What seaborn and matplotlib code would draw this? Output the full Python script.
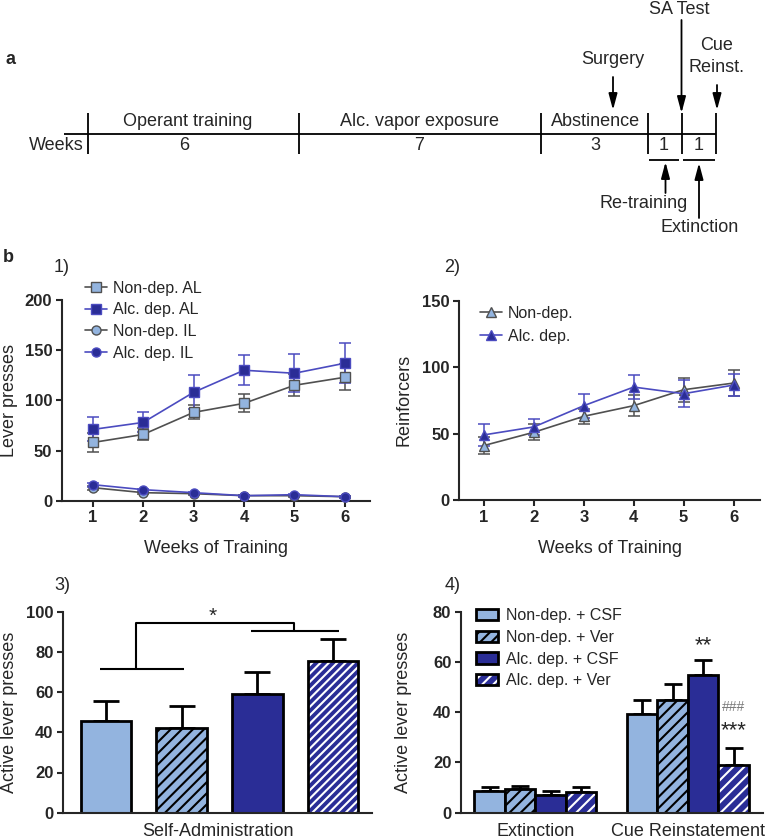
import numpy as np
import pandas as pd
import matplotlib
matplotlib.use("Agg")
import matplotlib.pyplot as plt
import seaborn as sns

sns.set_style("ticks")
plt.rcParams["font.family"] = ["Liberation Sans", "DejaVu Sans"]
plt.rcParams["hatch.linewidth"] = 1.5

# ---------------- data ----------------
weeks = [1, 2, 3, 4, 5, 6]
nondep_al = [58, 66, 88, 97, 115, 123]
nondep_al_err = [9, 6, 7, 9, 11, 13]
alcdep_al = [71, 78, 108, 130, 127, 137]
alcdep_al_err = [12, 10, 17, 15, 19, 20]
nondep_il = [13, 8, 7, 5, 5, 4]
nondep_il_err = [2, 1, 1, 1, 1, 1]
alcdep_il = [16, 11, 8, 5, 6, 4]
alcdep_il_err = [2, 1, 1, 1, 1, 1]

nondep_rf = [41, 51, 63, 71, 83, 88]
nondep_rf_err = [6.5, 6, 5.5, 8, 9, 10]
alcdep_rf = [49, 55, 71, 85, 80, 86.5]
alcdep_rf_err = [8, 6, 9, 9, 10, 8.5]

groups = ["Non-dep. + CSF", "Non-dep. + Ver", "Alc. dep. + CSF", "Alc. dep. + Ver"]
sa_values = [45.5, 42, 59, 75.5]
sa_err = [10, 11, 11, 11]

phases = ["Extinction", "Cue Reinstatement"]
ext_values = [8.8, 9.3, 7.0, 8.4]
ext_err = [1.3, 1.5, 1.5, 1.7]
cue_values = [39.3, 44.9, 55.0, 19.0]
cue_err = [5.6, 6.3, 5.8, 6.9]

# ---------------- style ----------------
LIGHT = "#93B4DF"
DARK = "#2A2D96"
GRAYLINE = "#505050"
BLUELINE = "#4B4BC0"
palette = [LIGHT, LIGHT, DARK, DARK]
hatches3 = ["", "///", "", "////"]
hatches4 = ["", "///", "", "///"]
hatch_white = [False, False, False, True]

W, H = 774, 839
fig = plt.figure(figsize=(W / 100, H / 100), dpi=100)

# overlay axes for timeline / panel letters (pixel coordinates)
ov = fig.add_axes([0, 0, 1, 1], zorder=-1)
ov.set_xlim(0, W)
ov.set_ylim(H, 0)
ov.axis("off")


def px_axes(l, t, r, b):
    return fig.add_axes([l / W, 1 - b / H, (r - l) / W, (b - t) / H])


def style_axes(ax):
    sns.despine(ax=ax)
    for s in ("left", "bottom"):
        ax.spines[s].set_linewidth(1.5)
    ax.tick_params(direction="out", length=4, width=1.5, labelsize=12, pad=3)
    for t in ax.get_yticklabels() + ax.get_xticklabels():
        t.set_fontweight("bold")


def white_hatch(p):
    if hasattr(p, "set_hatchcolor"):
        p.set_hatchcolor("white")
    else:
        p._hatch_color = (1, 1, 1, 1)


# ---------------- timeline (a) ----------------
tl = dict(color="k", lw=1.3, solid_capstyle="butt")
ov.plot([64, 716], [133.5, 133.5], **tl)
for xt in [88, 299, 540.5, 648, 681.5, 716]:
    ov.plot([xt, xt], [113, 154], **tl)
ov.plot([649, 679], [159.5, 159.5], **tl)
ov.plot([683, 715], [159.5, 159.5], **tl)
tfs = 13
ov.text(84, 145, "Weeks", ha="right", va="center", fontsize=tfs)
for x, s in [(184, "6"), (419, "7"), (595, "3"), (664, "1"), (698.5, "1")]:
    ov.text(x, 145, s, ha="center", va="center", fontsize=tfs)
for x, s in [(188, "Operant training"), (420, "Alc. vapor exposure"), (596, "Abstinence")]:
    ov.text(x, 121.5, s, ha="center", va="center", fontsize=tfs)
ap = dict(arrowstyle="-|>,head_length=0.75,head_width=0.2", lw=1.3, color="k",
          mutation_scale=13, shrinkA=0, shrinkB=0)
ov.annotate("", xy=(613, 110), xytext=(613, 77), arrowprops=ap)
ov.text(613, 60, "Surgery", ha="center", va="center", fontsize=tfs)
ov.annotate("", xy=(681.5, 113), xytext=(681.5, 20), arrowprops=ap)
ov.text(679, 10, "SA Test", ha="center", va="center", fontsize=tfs)
ov.annotate("", xy=(717, 110), xytext=(717, 85), arrowprops=ap)
ov.text(717, 45, "Cue", ha="center", va="center", fontsize=tfs)
ov.text(717, 67, "Reinst.", ha="center", va="center", fontsize=tfs)
ov.annotate("", xy=(665.5, 162), xytext=(665.5, 193), arrowprops=ap)
ov.text(644, 203, "Re-training", ha="center", va="center", fontsize=tfs)
ov.annotate("", xy=(699, 163), xytext=(699, 218), arrowprops=ap)
ov.text(700, 227, "Extinction", ha="center", va="center", fontsize=tfs)

ov.text(10, 60, "a", ha="center", va="center", fontsize=13, fontweight="bold")
ov.text(8, 258, "b", ha="center", va="center", fontsize=13, fontweight="bold")
for x, y, s in [(62, 268, "1)"), (452.5, 268, "2)"), (62.5, 585, "3)"), (452.5, 585, "4)")]:
    ov.text(x, y, s, ha="center", va="center", fontsize=13)

LEGFS = 11.5

# ---------------- panel 1 ----------------
ax1 = px_axes(62, 300, 370, 500.7)
series1 = [
    ("Non-dep. AL", nondep_al, nondep_al_err, "s", LIGHT, GRAYLINE),
    ("Alc. dep. AL", alcdep_al, alcdep_al_err, "s", DARK, BLUELINE),
    ("Non-dep. IL", nondep_il, nondep_il_err, "o", LIGHT, GRAYLINE),
    ("Alc. dep. IL", alcdep_il, alcdep_il_err, "o", DARK, BLUELINE),
]
for label, vals, errs, mk, fc, lc in series1:
    ax1.errorbar(weeks, vals, yerr=errs, fmt="none", ecolor=lc, elinewidth=1.1,
                 capsize=4, capthick=1.1, zorder=2)
    sns.lineplot(x=weeks, y=vals, ax=ax1, color=lc, lw=1.2, marker=mk, markersize=6.5,
                 markerfacecolor=fc, markeredgecolor=lc, markeredgewidth=1, label=label,
                 errorbar=None, zorder=3, clip_on=False)
ax1.set_xlim(0.39, 6.5)
ax1.set_ylim(0, 200)
ax1.set_xticks(weeks)
ax1.set_yticks([0, 50, 100, 150, 200])
style_axes(ax1)
ax1.set_xlabel("Weeks of Training", fontsize=13, va="center")
ax1.xaxis.set_label_coords(0.5, -0.236)
ax1.set_ylabel("Lever presses", fontsize=13, va="center")
ax1.yaxis.set_label_coords(-0.172, 0.5)
h, l = ax1.get_legend_handles_labels()
ax1.legend(h, l, loc="upper left", bbox_to_anchor=(0.075, 1.097), frameon=False,
           fontsize=LEGFS, borderpad=0, borderaxespad=0, handlelength=1.4,
           handletextpad=0.33, labelspacing=0.42)

# ---------------- panel 2 ----------------
ax2 = px_axes(459.3, 300.7, 760, 500)
series2 = [
    ("Non-dep.", nondep_rf, nondep_rf_err, "^", LIGHT, GRAYLINE),
    ("Alc. dep.", alcdep_rf, alcdep_rf_err, "^", DARK, BLUELINE),
]
for label, vals, errs, mk, fc, lc in series2:
    ax2.errorbar(weeks, vals, yerr=errs, fmt="none", ecolor=lc, elinewidth=1.1,
                 capsize=4, capthick=1.1, zorder=2)
    sns.lineplot(x=weeks, y=vals, ax=ax2, color=lc, lw=1.2, marker=mk, markersize=6.5,
                 markerfacecolor=fc, markeredgecolor=lc, markeredgewidth=1, label=label,
                 errorbar=None, zorder=3, clip_on=False)
ax2.set_xlim(0.505, 6.53)
ax2.set_ylim(0, 150)
ax2.set_xticks(weeks)
ax2.set_yticks([0, 50, 100, 150])
style_axes(ax2)
ax2.set_xlabel("Weeks of Training", fontsize=13, va="center")
ax2.xaxis.set_label_coords(0.5, -0.241)
ax2.set_ylabel("Reinforcers", fontsize=13, va="center")
ax2.yaxis.set_label_coords(-0.184, 0.5)
h, l = ax2.get_legend_handles_labels()
ax2.legend(h, l, loc="upper left", bbox_to_anchor=(0.069, 0.974), frameon=False,
           fontsize=LEGFS, borderpad=0, borderaxespad=0, handlelength=1.4,
           handletextpad=0.33, labelspacing=0.48)


def decorate_bars(containers, hatches):
    for i, cont in enumerate(containers):
        for bar in cont:
            bar.set_edgecolor("k")
            bar.set_linewidth(2)
            bar.set_hatch(hatches[i])
            if hatch_white[i]:
                white_hatch(bar)


# ---------------- panel 3 ----------------
ax3 = px_axes(63.3, 611.7, 371.7, 812.7)
df3 = pd.DataFrame({"group": groups, "value": sa_values})
sns.barplot(data=df3, x="group", y="value", hue="group", palette=palette,
            saturation=1, width=0.67, errorbar=None, legend=False, ax=ax3, zorder=2)
bars3 = list(ax3.containers)
decorate_bars(bars3, hatches3)
for i, cont in enumerate(bars3):
    for bar in cont:
        if bar is None or np.isnan(bar.get_height()):
            continue
        xc = bar.get_x() + bar.get_width() / 2
        ax3.errorbar([xc], [bar.get_height()], yerr=[[0], [sa_err[i]]], fmt="none",
                     ecolor="k", elinewidth=2, capsize=9.5, capthick=2, zorder=1)
ax3.set_xlim(-0.563, 3.51)
ax3.set_ylim(0, 100)
ax3.set_yticks([0, 20, 40, 60, 80, 100])
ax3.set_xticks([])
style_axes(ax3)
ax3.set_xlabel("Self-Administration", fontsize=13, va="center")
ax3.xaxis.set_label_coords(0.5, -0.0945)
ax3.set_ylabel("Active lever presses", fontsize=13, va="center")
ax3.yaxis.set_label_coords(-0.176, 0.5)
bk = dict(color="k", lw=1.5, solid_capstyle="butt", clip_on=False)
ax3.plot([-0.08, 1.03], [71.5, 71.5], **bk)
ax3.plot([1.91, 3.08], [90.2, 90.2], **bk)
ax3.plot([0.40, 0.40, 2.48, 2.48], [71.5, 94.2, 94.2, 90.2], **bk)
ax3.text(1.405, 97.5, "*", ha="center", va="center", fontsize=15)

# ---------------- panel 4 ----------------
ax4 = px_axes(461, 611.7, 763.3, 812.7)
df4 = pd.DataFrame({
    "phase": [phases[0]] * 4 + [phases[1]] * 4,
    "group": groups * 2,
    "value": ext_values + cue_values,
    "err": ext_err + cue_err,
})
sns.barplot(data=df4, x="phase", y="value", hue="group", hue_order=groups,
            palette=palette, saturation=1, width=0.8, errorbar=None, ax=ax4, zorder=2)
bars4 = list(ax4.containers)
decorate_bars(bars4, hatches4)
for i, cont in enumerate(bars4):
    g = groups[i]
    errs = df4[df4["group"] == g]["err"].tolist()
    for j, bar in enumerate(cont):
        xc = bar.get_x() + bar.get_width() / 2
        ax4.errorbar([xc], [bar.get_height()], yerr=[[0], [errs[j]]], fmt="none",
                     ecolor="k", elinewidth=2, capsize=6.5, capthick=2, zorder=1)
ax4.set_xlim(-0.487, 1.495)
ax4.set_ylim(0, 80)
ax4.set_yticks([0, 20, 40, 60, 80])
style_axes(ax4)
ax4.tick_params(axis="x", length=0, pad=7.5, labelsize=13)
for t in ax4.get_xticklabels():
    t.set_fontweight("normal")
ax4.set_xlabel("")
ax4.set_ylabel("Active lever presses", fontsize=13, va="center")
ax4.yaxis.set_label_coords(-0.189, 0.5)
leg = ax4.legend(handles=bars4, labels=groups, loc="upper left",
                 bbox_to_anchor=(0.0496, 1.016), frameon=False, fontsize=LEGFS,
                 borderpad=0, borderaxespad=0, handlelength=1.35, handleheight=0.7,
                 handletextpad=0.5, labelspacing=0.41)
for i, p in enumerate(leg.get_patches()):
    p.set_edgecolor("k")
    p.set_linewidth(2)
    p.set_hatch(hatches4[i])
    if hatch_white[i]:
        white_hatch(p)

cue_bars = [cont[1] for cont in bars4]
xc3 = cue_bars[2].get_x() + cue_bars[2].get_width() / 2
xc4 = cue_bars[3].get_x() + cue_bars[3].get_width() / 2
ax4.text(xc3, 66.5, "**", ha="center", va="center", fontsize=16)
ax4.text(xc4, 32.5, "***", ha="center", va="center", fontsize=16)
ax4.text(xc4, 42, "###", ha="center", va="center", fontsize=10, color="#7a7a7a")

fig.savefig("out.png", dpi=100)
